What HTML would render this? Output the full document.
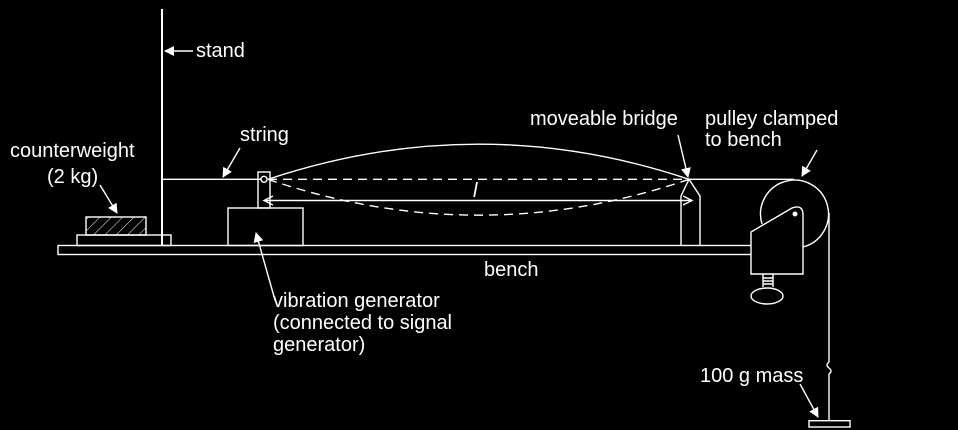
<!DOCTYPE html>
<html><head><meta charset="utf-8"><style>
html,body{margin:0;padding:0;background:#000;}
svg{display:block}
text{font-family:"Liberation Sans",sans-serif;font-size:20px;fill:#fff}
</style></head><body>
<svg width="958" height="430" viewBox="0 0 958 430">
<defs>
<marker id="ah" markerWidth="10" markerHeight="10" refX="9" refY="5" orient="auto" markerUnits="userSpaceOnUse"><path d="M0,0 L10,5 L0,10 z" fill="#fff"/></marker>
<pattern id="hatch" width="8" height="8" patternUnits="userSpaceOnUse" patternTransform="rotate(45)"><line x1="0" y1="0" x2="0" y2="8" stroke="#fff" stroke-width="1"/></pattern>
</defs>
<g stroke="#fff" stroke-width="1.4" fill="none">
<rect x="58" y="245.5" width="724" height="9"/>
<line x1="162" y1="9" x2="162" y2="245" stroke-width="2"/>
<rect x="77" y="235" width="94" height="10.5"/>
<rect x="86" y="217" width="60" height="18" fill="url(#hatch)"/>
<line x1="162" y1="179.3" x2="261" y2="179.3"/>
<rect x="258" y="172" width="12" height="36"/>
<circle cx="264" cy="179.3" r="3"/>
<rect x="228" y="208" width="75" height="37.5"/>
<path d="M268,179.3 Q479,109 689,179.3"/>
<path d="M268,179.3 Q479,251 689,179.3" stroke-dasharray="9,6"/>
<line x1="268" y1="179.3" x2="689" y2="179.3" stroke-dasharray="9,6"/>
<line x1="264" y1="200.5" x2="692" y2="200.5"/>
<path d="M273,196 L264,200.5 L273,205 M683,196 L692,200.5 L683,205"/>
<path d="M681,245.5 L681,196 L689,179.3 L700,196 L700,245.5"/>
<line x1="689" y1="179.3" x2="794" y2="179.3"/>
<path d="M762,224 A34,34 0 1 1 803,247"/>
<line x1="829" y1="213" x2="829" y2="362"/>
<path d="M829,362 q-4,3 0,6 q4,3 0,6 M829,374 L829,421"/>
<rect x="809" y="420.7" width="41" height="6.3"/>
<path d="M751,274 L751,232 L792,208 Q803,204 803,215 L803,274 Z" fill="#000"/>
<circle cx="795" cy="214" r="2.5" fill="#fff" stroke="none"/>
<path d="M763,274 L763,287 M773,274 L773,287 M763,278 H773 M763,281 H773 M763,284 H773"/>
<ellipse cx="767" cy="296" rx="16" ry="8"/>
<line x1="193" y1="51" x2="165" y2="51" marker-end="url(#ah)"/>
<line x1="240" y1="148" x2="223" y2="177" marker-end="url(#ah)"/>
<line x1="100" y1="185" x2="117" y2="213" marker-end="url(#ah)"/>
<line x1="678" y1="135" x2="688" y2="177" marker-end="url(#ah)"/>
<line x1="817" y1="150" x2="802" y2="176" marker-end="url(#ah)"/>
<line x1="275" y1="300" x2="256" y2="233" marker-end="url(#ah)"/>
<line x1="800" y1="384" x2="818" y2="417" marker-end="url(#ah)"/>
</g>
<text x="196" y="57">stand</text>
<text x="240" y="141">string</text>
<text x="10" y="157">counterweight</text>
<text x="47" y="183">(2 kg)</text>
<text x="530" y="125">moveable bridge</text>
<text x="705" y="125">pulley clamped</text>
<text x="705" y="146">to bench</text>
<text x="473" y="197" font-style="italic">l</text>
<text x="484" y="276">bench</text>
<text x="273" y="307">vibration generator</text>
<text x="273" y="329">(connected to signal</text>
<text x="273" y="351">generator)</text>
<text x="700" y="382">100 g mass</text>
</svg>
</body></html>
